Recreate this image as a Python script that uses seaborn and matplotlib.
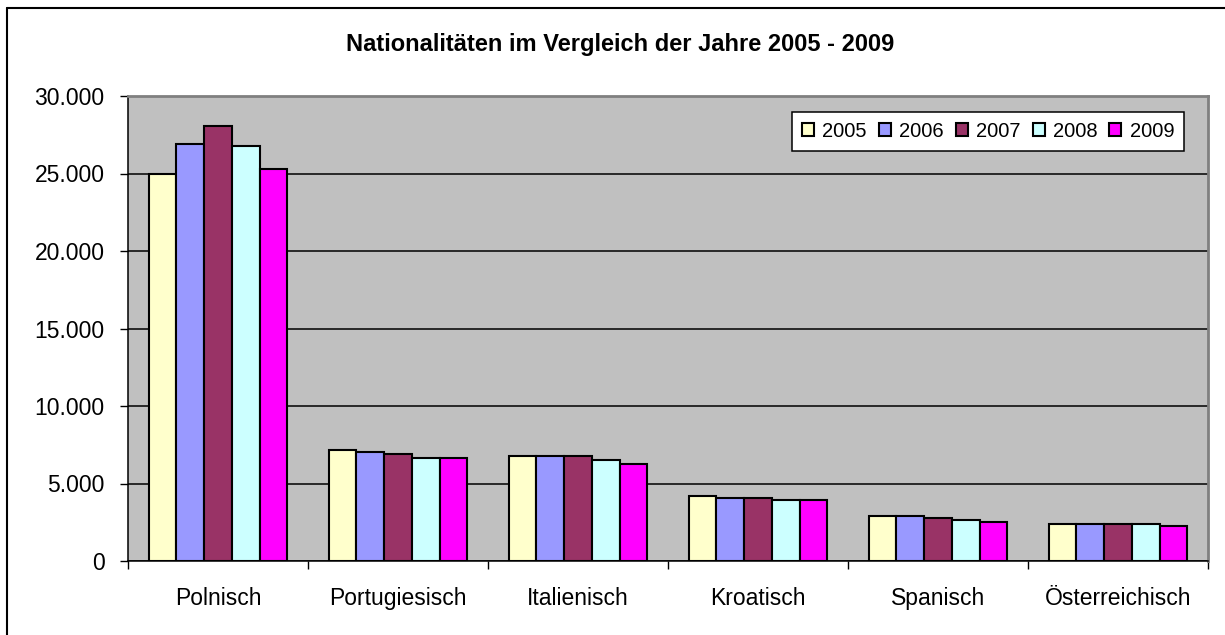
import matplotlib
matplotlib.use("Agg")
import matplotlib.pyplot as plt
import seaborn as sns
import pandas as pd
from matplotlib.ticker import FuncFormatter, FixedLocator, NullFormatter
from matplotlib.lines import Line2D

categories = ["Polnisch", "Portugiesisch", "Italienisch", "Kroatisch", "Spanisch", "Österreichisch"]
years = ["2005", "2006", "2007", "2008", "2009"]
v2005 = [24950, 7150, 6780, 4210, 2930, 2410]
v2006 = [26900, 7040, 6780, 4080, 2920, 2410]
v2007 = [28050, 6930, 6780, 4080, 2800, 2410]
v2008 = [26750, 6650, 6520, 3950, 2670, 2410]
v2009 = [25300, 6650, 6290, 3950, 2540, 2290]
colors = ["#FFFFCC", "#9999FF", "#993366", "#CCFFFF", "#FF00FF"]

series = [v2005, v2006, v2007, v2008, v2009]
rows = []
for y, vals in zip(years, series):
    for c, v in zip(categories, vals):
        rows.append({"Nationalität": c, "Jahr": y, "Wert": v})
df = pd.DataFrame(rows)

sns.set_theme(style="white")
plt.rcParams["font.family"] = ["Liberation Sans", "DejaVu Sans"]
plt.rcParams["text.color"] = "black"
plt.rcParams["xtick.labelcolor"] = "black"
plt.rcParams["ytick.labelcolor"] = "black"

fig = plt.figure(figsize=(12.25, 6.35), dpi=100)
ax = fig.add_axes([128/1225, 1-561/635, 1080/1225, 465/635])
ax.set_facecolor("#C0C0C0")

sns.barplot(data=df, x="Nationalität", y="Wert", hue="Jahr", order=categories,
            hue_order=years, palette=dict(zip(years, colors)), width=0.77,
            edgecolor="black", linewidth=1.5, saturation=1, ax=ax, errorbar=None)

ax.set_ylim(0, 30000)
ax.set_xlim(-0.5, 5.5)
ax.set_yticks(range(0, 30001, 5000))
ax.yaxis.set_major_formatter(FuncFormatter(lambda v, p: f"{int(v):,}".replace(",", ".")))
ax.grid(axis="y", color="black", linewidth=1.1)
ax.set_axisbelow(True)
ax.set_xlabel("")
ax.set_ylabel("")

# x ticks at category boundaries, labels at centers
ax.xaxis.set_major_locator(FixedLocator([i - 0.5 for i in range(7)]))
ax.xaxis.set_major_formatter(NullFormatter())
ax.xaxis.set_minor_locator(FixedLocator(list(range(6))))
ax.set_xticklabels(categories, minor=True)
ax.tick_params(axis="x", which="major", direction="out", length=5.8, width=1, color="black", bottom=True)
ax.tick_params(axis="x", which="minor", length=0, pad=18.5, labelsize=16.5, labelcolor="black")
ax.tick_params(axis="y", direction="out", length=5.8, width=1, color="black", left=True, pad=11,
               labelsize=16.5, labelcolor="black")

for s in ["top", "right"]:
    ax.spines[s].set_color("#808080")
    ax.spines[s].set_linewidth(2)
for s in ["left", "bottom"]:
    ax.spines[s].set_color("black")
    ax.spines[s].set_linewidth(1.1)

leg = ax.get_legend()
if leg is not None:
    leg.remove()
handles, labels = ax.get_legend_handles_labels()
lg = ax.legend(handles, labels, ncol=5, loc="upper right", bbox_to_anchor=(0.978, 0.966),
               fontsize=14.5, frameon=True, fancybox=False, framealpha=1,
               handlelength=0.6, handleheight=0.6, handletextpad=0.4, columnspacing=0.6,
               borderpad=0.5, borderaxespad=0)
lg.get_frame().set_edgecolor("black")
lg.get_frame().set_linewidth(1.1)
lg.get_frame().set_facecolor("white")
for t in lg.get_texts():
    t.set_color("black")

fig.text(620/1225, 1-44/635, "Nationalitäten im Vergleich der Jahre 2005 - 2009",
         ha="center", va="center", fontsize=17, fontweight="bold", color="black")

# outer chart border
fig.add_artist(Line2D([7/1225, 1.0], [1-8/635, 1-8/635], transform=fig.transFigure, color="black", linewidth=1.5))
fig.add_artist(Line2D([7/1225, 7/1225], [1-8/635, 0.0], transform=fig.transFigure, color="black", linewidth=1.5))

fig.savefig("out.png", dpi=100, facecolor="white")
